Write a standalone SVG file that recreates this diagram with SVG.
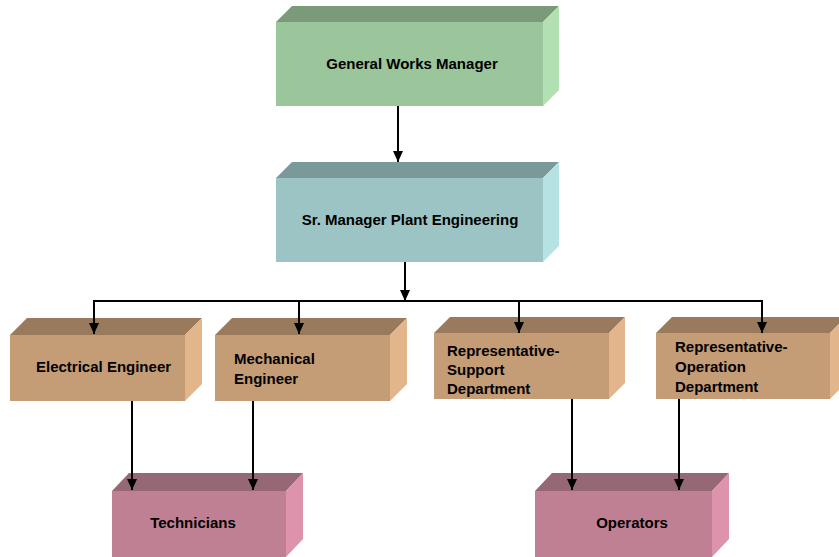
<svg xmlns="http://www.w3.org/2000/svg" width="839" height="557" viewBox="0 0 839 557">
<defs>
<marker id="ah" markerWidth="12" markerHeight="12" refX="11" refY="5.5" orient="auto" markerUnits="userSpaceOnUse">
<path d="M0,0.5 L11,5.5 L0,10.5 Z" fill="#000"/>
</marker>
<style>
.t{font-family:"Liberation Sans",Arial,sans-serif;font-weight:bold;font-size:15px;fill:#000}
.c{stroke:#000;stroke-width:2;fill:none}
.a{marker-end:url(#ah)}
.gF{fill:#9BC59B}.gT{fill:#7A9A7A}.gS{fill:#B3E0B3}
.bF{fill:#9CC4C4}.bT{fill:#7A9A9A}.bS{fill:#B5E2E2}
.oF{fill:#C49C76}.oT{fill:#9A7A5C}.oS{fill:#E2B58A}
.pF{fill:#C08094}.pT{fill:#966775}.pS{fill:#DC93AB}
</style>
</defs>
<rect width="839" height="557" fill="#fff"/>
<g id="gwm">
<polygon class="gT" points="276,22 292,6 559,6 543,22"/>
<polygon class="gS" points="543,22 559,6 559,90 543,106"/>
<rect class="gF" x="276" y="22" width="267" height="84"/>
<text class="t" x="412" y="69" text-anchor="middle">General Works Manager</text>
</g>
<g id="srm">
<polygon class="bT" points="276,178 292,162 559,162 543,178"/>
<polygon class="bS" points="543,178 559,162 559,246 543,262"/>
<rect class="bF" x="276" y="178" width="267" height="84"/>
<text class="t" x="410" y="225" text-anchor="middle">Sr. Manager Plant Engineering</text>
</g>
<g id="ee">
<polygon class="oT" points="10,335 27,318 202,318 185,335"/>
<polygon class="oS" points="185,335 202,318 202,384 185,401"/>
<rect class="oF" x="10" y="335" width="175" height="66"/>
<text class="t" x="36" y="372">Electrical Engineer</text>
</g>
<g id="me">
<polygon class="oT" points="215,335 232,318 407,318 390,335"/>
<polygon class="oS" points="390,335 407,318 407,384 390,401"/>
<rect class="oF" x="215" y="335" width="175" height="66"/>
<text class="t" x="234" y="364">Mechanical</text>
<text class="t" x="234" y="384">Engineer</text>
</g>
<g id="rsd">
<polygon class="oT" points="434,333 450,317 625,317 609,333"/>
<polygon class="oS" points="609,333 625,317 625,383 609,399"/>
<rect class="oF" x="434" y="333" width="175" height="66"/>
<text class="t" x="447" y="356">Representative-</text>
<text class="t" x="447" y="375">Support</text>
<text class="t" x="447" y="394">Department</text>
</g>
<g id="rod">
<polygon class="oT" points="656,333 672,317 846,317 830,333"/>
<polygon class="oS" points="830,333 846,317 846,383 830,399"/>
<rect class="oF" x="656" y="333" width="174" height="66"/>
<text class="t" x="675" y="352">Representative-</text>
<text class="t" x="675" y="372">Operation</text>
<text class="t" x="675" y="392">Department</text>
</g>
<g id="tech">
<polygon class="pT" points="112,491 129,473 303,473 286,491"/>
<polygon class="pS" points="286,491 303,473 303,539 286,557"/>
<rect class="pF" x="112" y="491" width="174" height="66"/>
<text class="t" x="193" y="528" text-anchor="middle">Technicians</text>
</g>
<g id="ops">
<polygon class="pT" points="535,491 552,473 729,473 712,491"/>
<polygon class="pS" points="712,491 729,473 729,539 712,557"/>
<rect class="pF" x="535" y="491" width="177" height="66"/>
<text class="t" x="632" y="528" text-anchor="middle">Operators</text>
</g>
<g id="connectors">
<line class="c a" x1="398" y1="106" x2="398" y2="162"/>
<line class="c a" x1="405" y1="262" x2="405" y2="301"/>
<line class="c" x1="93" y1="301" x2="763" y2="301"/>
<line class="c a" x1="94" y1="300" x2="94" y2="334"/>
<line class="c a" x1="299" y1="300" x2="299" y2="334"/>
<line class="c a" x1="519" y1="300" x2="519" y2="333"/>
<line class="c a" x1="762" y1="300" x2="762" y2="333"/>
<line class="c a" x1="132" y1="401" x2="132" y2="490"/>
<line class="c a" x1="253" y1="401" x2="253" y2="490"/>
<line class="c a" x1="572" y1="399" x2="572" y2="490"/>
<line class="c a" x1="679" y1="399" x2="679" y2="490"/>
</g>
</svg>
